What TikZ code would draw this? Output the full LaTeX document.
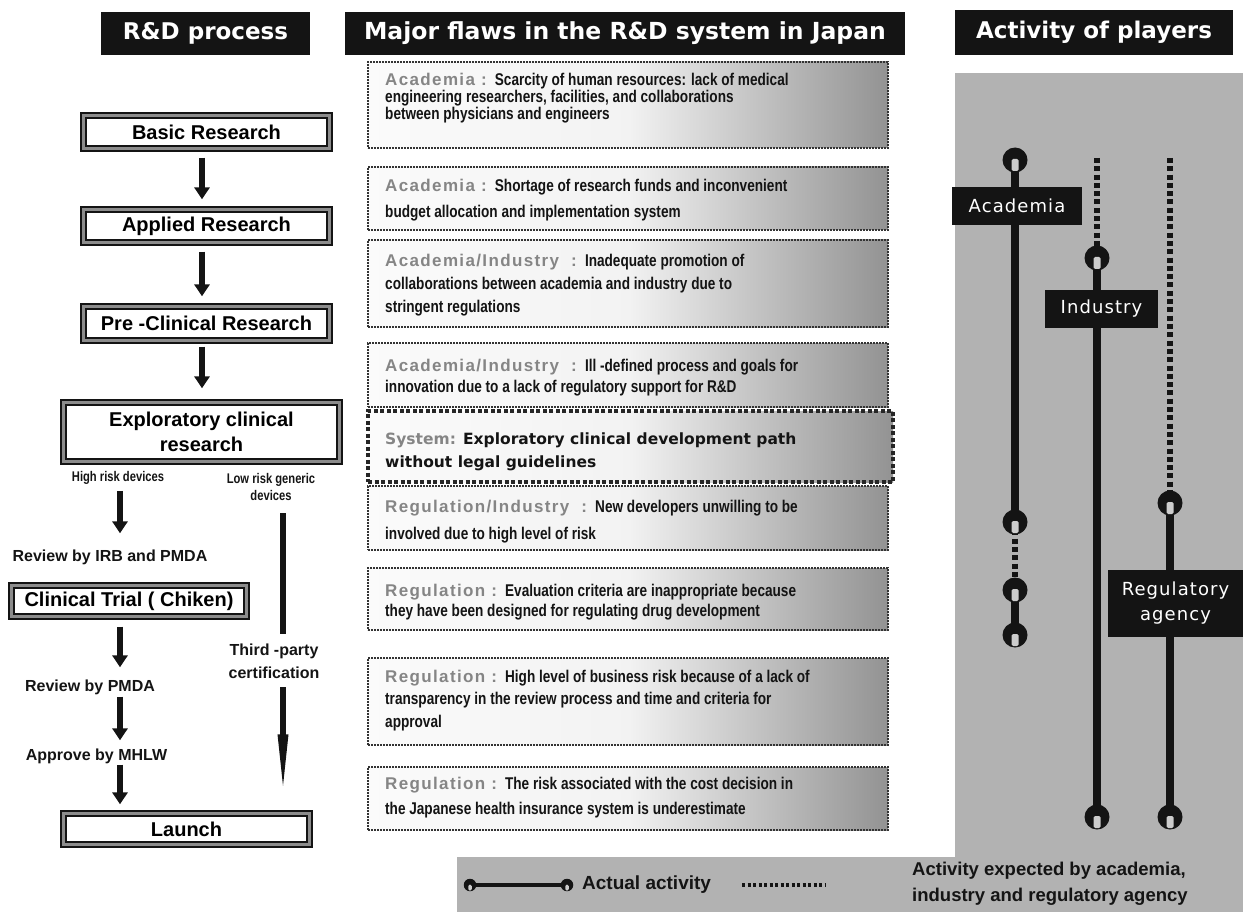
\documentclass[tikz,border=0pt]{standalone}
\usepackage{fontspec}
\setmainfont{Liberation Sans}
\newfontfamily\hdfont{DejaVu Sans}
\newfontfamily\tagfont{DejaVu Sans}[LetterSpace=6]
\newfontfamily\flawfont{Liberation Sans}[FakeStretch=0.8]
\newfontfamily\catfont{Liberation Sans}[LetterSpace=8]
\usetikzlibrary{arrows.meta,calc}

\definecolor{ink}{gray}{0.08}
\definecolor{panelgray}{gray}{0.70}
\definecolor{catgray}{gray}{0.52}
\definecolor{notch}{gray}{0.80}

% light band in the middle, darker towards both ends
\pgfdeclarehorizontalshading{flawshade}{100bp}{%
  color(0bp)=(black!50); color(13bp)=(white); color(50bp)=(black!5);
  color(100bp)=(black!80)}

\tikzset{
  header/.style={fill=ink, text=white, inner sep=0pt, minimum height=43pt,
    font=\hdfont\bfseries\fontsize{23pt}{27pt}\selectfont},
  stagebox/.style={draw=ink, line width=2.3pt, double=black!45, double distance=2.2pt,
    fill=white, align=center, inner sep=0pt,
    font=\bfseries\fontsize{20pt}{25pt}\selectfont},
  smalllabel/.style={inner sep=0pt, align=center, text=ink,
    font=\bfseries\fontsize{16pt}{23pt}\selectfont},
  tinylabel/.style={inner sep=0pt, align=center, text=ink,
    font=\flawfont\bfseries\fontsize{14pt}{17pt}\selectfont},
  flowarrow/.style={draw=ink, line width=5.5pt, -{Triangle[width=15pt,length=12pt]}},
  flawbox/.style={shading=flawshade, draw=black!80, line width=1.3pt,
    dash pattern=on 2pt off 1pt, inner sep=0pt, minimum width=520pt},
  systembox/.style={shading=flawshade, draw=black!85, line width=3.5pt,
    dash pattern=on 4pt off 2.5pt, inner sep=0pt, minimum width=525pt},
  flawtext/.style={anchor=west, inner sep=0pt, align=left, text=ink,
    font=\flawfont\bfseries\fontsize{17pt}{#1}\selectfont},
  playertag/.style={fill=ink, text=white, inner sep=0pt, align=center,
    font=\tagfont\fontsize{18pt}{25pt}\selectfont},
  actline/.style={draw=ink, line width=8pt},
  expline/.style={draw=ink, line width=5.5pt, dash pattern=on 5pt off 3.3pt},
  actpin/.pic={\fill[ink] (0,0) circle (12.5);
    \fill[notch, rounded corners=1.5pt] (-3.5,-1) rectangle (3.5,11);}
}
\newcommand{\cat}[1]{{\catfont\bfseries\color{catgray}#1}}

\begin{document}
\begin{tikzpicture}[x=1pt,y=-1pt]
\useasboundingbox (0,0) rectangle (1243,912);

% grey field behind the players and the legend
\fill[panelgray] (955,73) rectangle (1243,912);
\fill[panelgray] (457,857) rectangle (1243,912);

% column headings
\node[header, minimum width=209pt] (h1) at (205.5,33.5) {R\&D process};
\node[header, minimum width=560pt] (h2) at (625,33.5) {\fontsize{23.5pt}{27pt}\selectfont Major flaws in the R\&D system in Japan};
\node[header, minimum width=278pt, minimum height=45pt] (h3) at (1094,32.5) {Activity of players};

% ---------------- R&D process ----------------
\coordinate (ax) at (202,0);
\coordinate (hx) at (120,0);
\coordinate (lx) at (283,0);

\node[stagebox, minimum width=246pt, minimum height=33pt] (basic) at (206.5,132) {Basic Research};
\node[stagebox, minimum width=246pt, minimum height=33pt] (applied) at (206.5,226) {Applied Research};
\node[stagebox, minimum width=246pt, minimum height=34pt] (preclin) at (206.5,323.5) {Pre -Clinical Research};
\node[stagebox, minimum width=276pt, minimum height=59pt] (explor) at (201.5,432) {Exploratory clinical\\research};

\draw[flowarrow, shorten <=8pt, shorten >=9pt] (basic.south -| ax) -- (applied.north -| ax);
\draw[flowarrow, shorten <=8pt, shorten >=9pt] (applied.south -| ax) -- (preclin.north -| ax);
\draw[flowarrow, shorten <=5pt, shorten >=13pt] (preclin.south -| ax) -- (explor.north -| ax);

\node[tinylabel] (hrisk) at (118,478) {High risk devices};
\node[tinylabel] (lrisk) at (271,486.5) {Low risk generic\\devices};

\node[smalllabel] (irb) at (110,557) {Review by IRB and PMDA};
\node[stagebox, minimum width=235pt, minimum height=31pt] (trial) at (129,601) {Clinical Trial ( Chiken)};
\node[smalllabel] (pmda) at (90,687) {Review by PMDA};
\node[smalllabel] (mhlw) at (96.5,756) {Approve by MHLW};
\node[smalllabel] (third) at (274,661.5) {Third -party\\certification};
\node[stagebox, minimum width=246pt, minimum height=31pt] (launch) at (186.5,829) {Launch};

\draw[flowarrow, shorten <=6pt, shorten >=16pt] (hrisk.south -| hx) -- (irb.north -| hx);
\draw[flowarrow, shorten <=9pt, shorten >=12pt] (trial.south -| hx) -- (pmda.north -| hx);
\draw[flowarrow, shorten <=2pt, shorten >=8pt] (pmda.south -| hx) -- (mhlw.north -| hx);
\draw[flowarrow, shorten <=1pt, shorten >=8pt] (mhlw.south -| hx) -- (launch.north -| hx);

\draw[draw=ink, line width=6pt, shorten <=13pt, shorten >=10pt] (lrisk.south -| lx) -- (third.north -| lx);
\draw[draw=ink, line width=6pt, -{Triangle[width=9pt,length=70pt]}, shorten <=8pt, shorten >=8pt]
  (third.south -| lx) -- (launch.north -| lx);

% ---------------- Major flaws ----------------
\node[flawbox, minimum height=86pt] (f1) at (628,105) {};
\node[flawtext=15pt] (f1t) at (385,98) {\cat{Academia : }Scarcity of human resources: lack of medical\\engineering researchers, facilities, and collaborations\\between physicians and engineers};

\node[flawbox, minimum height=63pt] (f2) at (628,198.5) {};
\node[flawtext=26pt] (f2t) at (385,200) {\cat{Academia : }Shortage of research funds and inconvenient\\budget allocation and implementation system};

\node[flawbox, minimum height=87pt] (f3) at (628,283.5) {};
\node[flawtext=23pt] (f3t) at (385,285) {\cat{Academia/Industry \ : }Inadequate promotion of\\collaborations between academia and industry due to\\stringent regulations};

\node[flawbox, minimum height=64pt] (f4) at (628,375) {};
\node[flawtext=21pt] (f4t) at (385,377.5) {\cat{Academia/Industry \ : }Ill -defined process and goals for\\innovation due to a lack of regulatory support for R\&D};

\node[systembox, minimum height=71pt] (f5) at (630.5,446.5) {};
\node[anchor=west, inner sep=0pt, align=left, text=ink,
  font=\hdfont\bfseries\fontsize{15.5pt}{23pt}\selectfont] (f5t) at (385,451.5)
  {{\color{catgray}System:} Exploratory clinical development path\\without legal guidelines};

\node[flawbox, minimum height=64pt] (f6) at (628,518) {};
\node[flawtext=27pt] (f6t) at (385,521.5) {\cat{Regulation/Industry \ : }New developers unwilling to be\\involved due to high level of risk};

\node[flawbox, minimum height=62pt] (f7) at (628,599) {};
\node[flawtext=20pt] (f7t) at (385,602) {\cat{Regulation : }Evaluation criteria are inappropriate because\\they have been designed for regulating drug development};

\node[flawbox, minimum height=87pt] (f8) at (628,701.5) {};
\node[flawtext=22.5pt] (f8t) at (385,700.5) {\cat{Regulation : }High level of business risk because of a lack of\\transparency in the review process and time and criteria for\\approval};

\node[flawbox, minimum height=63pt] (f9) at (628,798.5) {};
\node[flawtext=25pt] (f9t) at (385,797.5) {\cat{Regulation : }The risk associated with the cost decision in\\the Japanese health insurance system is underestimate};

% ---------------- Activity of players ----------------
\coordinate (a1) at (1015,160);
\coordinate (a2) at (1015,522);
\coordinate (a3) at (1015,590);
\coordinate (a4) at (1015,635);
\coordinate (i0) at (1097,158);
\coordinate (i1) at (1097,258);
\coordinate (i2) at (1097,817);
\coordinate (r0) at (1170,158);
\coordinate (r1) at (1170,503);
\coordinate (r2) at (1170,817);

\draw[actline] (a1) -- (a2);
\draw[expline] (a2) -- (a3);
\draw[actline] (a3) -- (a4);
\draw[expline] (i0) -- (i1);
\draw[actline] (i1) -- (i2);
\draw[expline] (r0) -- (r1);
\draw[actline] (r1) -- (r2);

\foreach \p in {a1,a2,a3,a4,i1,i2,r1,r2} \pic at (\p) {actpin};

\node[playertag, minimum width=130pt, minimum height=38pt] (acad) at (1017,206) {Academia};
\node[playertag, minimum width=113pt, minimum height=38pt] (indu) at (1101.5,309) {Industry};
\node[playertag, minimum width=135pt, minimum height=67pt] (regu) at (1175.5,603.5) {Regulatory\\agency};

% ---------------- legend ----------------
\coordinate (l1) at (470,885);
\coordinate (l2) at (567,885);
\coordinate (l3) at (742,885);
\coordinate (l4) at (825,885);
\draw[draw=ink, line width=4pt] (l1) -- (l2);
\pic[scale=0.5] at (l1) {actpin};
\pic[scale=0.5] at (l2) {actpin};
\node[anchor=west, inner sep=0pt, text=ink, font=\bfseries\fontsize{19pt}{23pt}\selectfont]
  (legact) at (582,885) {Actual activity};
\draw[draw=ink, line width=4pt, dash pattern=on 3pt off 2.5pt] (l3) -- (l4);
\node[anchor=west, inner sep=0pt, align=left, text=ink,
  font=\bfseries\fontsize{18.5pt}{26pt}\selectfont]
  (legexp) at (912,884) {Activity expected by academia,\\industry and regulatory agency};
\end{tikzpicture}
\end{document}
